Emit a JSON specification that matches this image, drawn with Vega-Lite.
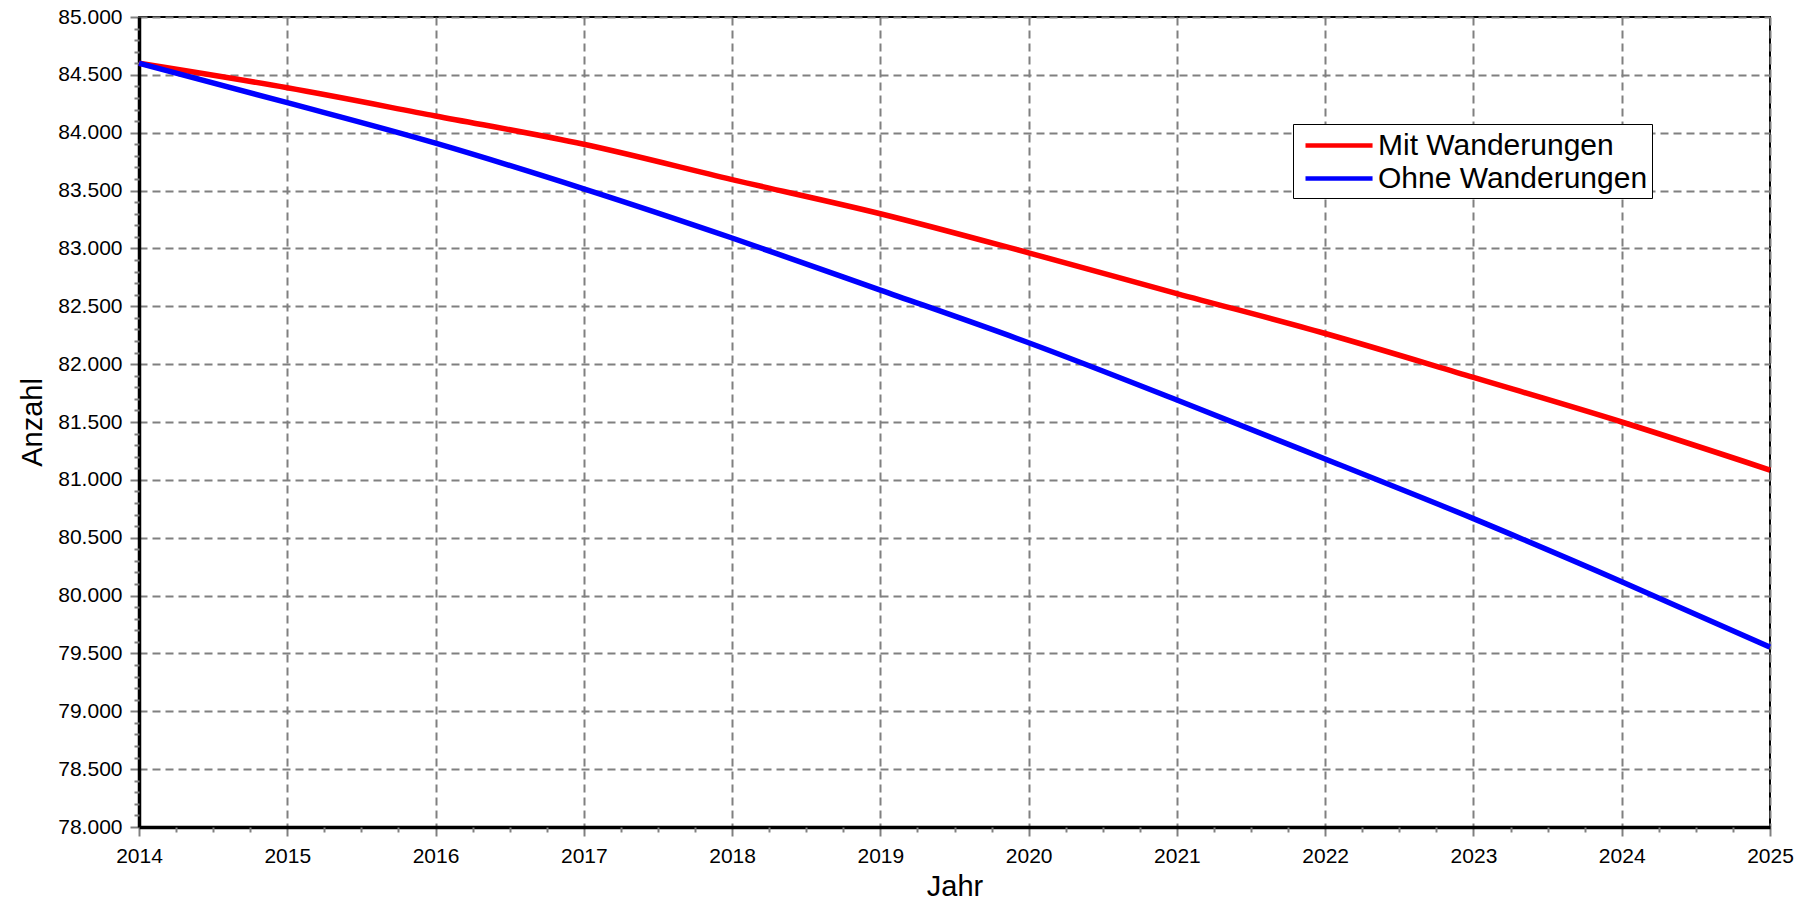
{
  "$schema": "https://vega.github.io/schema/vega-lite/v6.json",
  "width": 1631,
  "height": 810,
  "autosize": {"type": "none"},
  "padding": {"left": 139, "top": 17, "right": 37, "bottom": 78},
  "background": "white",
  "config": {
    "view": {"stroke": "black", "strokeWidth": 2},
    "font": "Liberation Sans"
  },
  "data": {
    "values": [
      {"Jahr": 2014, "Serie": "Mit Wanderungen", "Anzahl": 84600},
      {"Jahr": 2015, "Serie": "Mit Wanderungen", "Anzahl": 84388},
      {"Jahr": 2016, "Serie": "Mit Wanderungen", "Anzahl": 84145},
      {"Jahr": 2017, "Serie": "Mit Wanderungen", "Anzahl": 83900},
      {"Jahr": 2018, "Serie": "Mit Wanderungen", "Anzahl": 83595},
      {"Jahr": 2019, "Serie": "Mit Wanderungen", "Anzahl": 83300},
      {"Jahr": 2020, "Serie": "Mit Wanderungen", "Anzahl": 82962},
      {"Jahr": 2021, "Serie": "Mit Wanderungen", "Anzahl": 82610},
      {"Jahr": 2022, "Serie": "Mit Wanderungen", "Anzahl": 82265},
      {"Jahr": 2023, "Serie": "Mit Wanderungen", "Anzahl": 81885},
      {"Jahr": 2024, "Serie": "Mit Wanderungen", "Anzahl": 81500},
      {"Jahr": 2025, "Serie": "Mit Wanderungen", "Anzahl": 81085},
      {"Jahr": 2014, "Serie": "Ohne Wanderungen", "Anzahl": 84600},
      {"Jahr": 2015, "Serie": "Ohne Wanderungen", "Anzahl": 84260},
      {"Jahr": 2016, "Serie": "Ohne Wanderungen", "Anzahl": 83910},
      {"Jahr": 2017, "Serie": "Ohne Wanderungen", "Anzahl": 83515},
      {"Jahr": 2018, "Serie": "Ohne Wanderungen", "Anzahl": 83090},
      {"Jahr": 2019, "Serie": "Ohne Wanderungen", "Anzahl": 82640},
      {"Jahr": 2020, "Serie": "Ohne Wanderungen", "Anzahl": 82185},
      {"Jahr": 2021, "Serie": "Ohne Wanderungen", "Anzahl": 81690},
      {"Jahr": 2022, "Serie": "Ohne Wanderungen", "Anzahl": 81180},
      {"Jahr": 2023, "Serie": "Ohne Wanderungen", "Anzahl": 80665},
      {"Jahr": 2024, "Serie": "Ohne Wanderungen", "Anzahl": 80120},
      {"Jahr": 2025, "Serie": "Ohne Wanderungen", "Anzahl": 79555}
    ]
  },
  "layer": [
    {
      "mark": {"type": "line", "strokeWidth": 5.5, "interpolate": "monotone"},
      "encoding": {
        "x": {
          "field": "Jahr",
          "type": "quantitative",
          "scale": {"domain": [2014, 2025], "nice": false, "zero": false},
          "axis": {
            "title": "Jahr",
            "titleFontSize": 29,
            "titleFontWeight": "normal",
            "titleColor": "black",
            "titlePadding": 6,
            "values": [2014, 2015, 2016, 2017, 2018, 2019, 2020, 2021, 2022, 2023, 2024, 2025],
            "format": "d",
            "labelFontSize": 21,
            "labelColor": "black",
            "labelPadding": 9,
            "labelFlush": false,
            "tickSize": 9,
            "tickColor": "#808080",
            "tickWidth": 2,
            "domainColor": "black",
            "domainWidth": 3.5,
            "grid": true,
            "gridColor": "#808080",
            "gridDash": [8, 5],
            "gridWidth": 2
          }
        },
        "y": {
          "field": "Anzahl",
          "type": "quantitative",
          "scale": {"domain": [78000, 85000], "nice": false, "zero": false},
          "axis": {
            "title": "Anzahl",
            "titleFontSize": 29,
            "titleFontWeight": "normal",
            "titleColor": "black",
            "titlePadding": 10,
            "values": [78000, 78500, 79000, 79500, 80000, 80500, 81000, 81500, 82000, 82500, 83000, 83500, 84000, 84500, 85000],
            "labelExpr": "replace(format(datum.value, ','), ',', '.')",
            "labelFontSize": 21,
            "labelColor": "black",
            "labelPadding": 8,
            "labelFlush": false,
            "tickSize": 9,
            "tickColor": "#808080",
            "tickWidth": 2,
            "domainColor": "black",
            "domainWidth": 3.5,
            "grid": true,
            "gridColor": "#808080",
            "gridDash": [8, 5],
            "gridWidth": 2
          }
        },
        "color": {
          "field": "Serie",
          "type": "nominal",
          "scale": {"domain": ["Mit Wanderungen", "Ohne Wanderungen"], "range": ["#ff0000", "#0000ff"]},
          "legend": {
            "orient": "none",
            "legendX": 1154,
            "legendY": 107,
            "title": null,
            "symbolType": "M-0.6,0H3.87",
            "symbolStrokeWidth": 4.5,
            "symbolSize": 900,
            "symbolFillColor": "transparent",
            "labelFontSize": 30,
            "labelColor": "black",
            "labelOffset": 46,
            "labelLimit": 400,
            "strokeColor": "black",
            "fillColor": "white",
            "padding": 4,
            "rowPadding": 0
          }
        }
      }
    },
    {
      "mark": {"type": "line", "opacity": 0},
      "encoding": {
        "detail": {"field": "Serie"},
        "x": {
          "field": "Jahr",
          "type": "quantitative",
          "axis": {
            "orient": "bottom",
            "title": null,
            "labels": false,
            "domain": false,
            "grid": false,
            "tickSize": 5,
            "tickColor": "#808080",
            "tickWidth": 2,
            "values": [2014.25, 2014.5, 2014.75, 2015.25, 2015.5, 2015.75, 2016.25, 2016.5, 2016.75, 2017.25, 2017.5, 2017.75, 2018.25, 2018.5, 2018.75, 2019.25, 2019.5, 2019.75, 2020.25, 2020.5, 2020.75, 2021.25, 2021.5, 2021.75, 2022.25, 2022.5, 2022.75, 2023.25, 2023.5, 2023.75, 2024.25, 2024.5, 2024.75]
          }
        },
        "y": {
          "field": "Anzahl",
          "type": "quantitative",
          "axis": {
            "orient": "left",
            "title": null,
            "labels": false,
            "domain": false,
            "grid": false,
            "tickSize": 5,
            "tickColor": "#808080",
            "tickWidth": 2,
            "values": [78100, 78200, 78300, 78400, 78600, 78700, 78800, 78900, 79100, 79200, 79300, 79400, 79600, 79700, 79800, 79900, 80100, 80200, 80300, 80400, 80600, 80700, 80800, 80900, 81100, 81200, 81300, 81400, 81600, 81700, 81800, 81900, 82100, 82200, 82300, 82400, 82600, 82700, 82800, 82900, 83100, 83200, 83300, 83400, 83600, 83700, 83800, 83900, 84100, 84200, 84300, 84400, 84600, 84700, 84800, 84900]
          }
        }
      }
    }
  ],
  "resolve": {"axis": {"x": "independent", "y": "independent"}}
}
